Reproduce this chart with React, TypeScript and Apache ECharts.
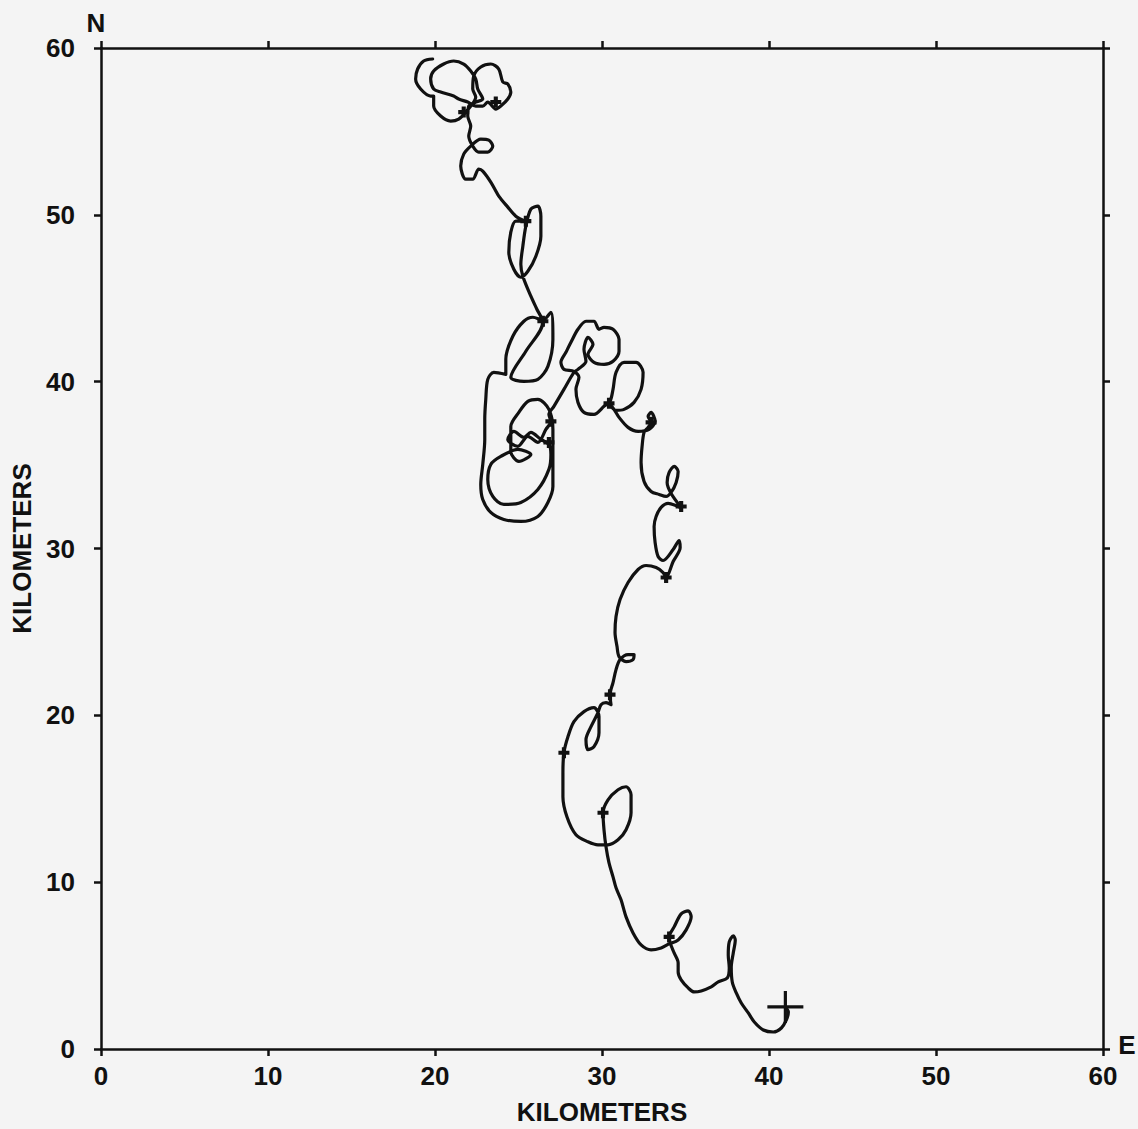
import React, { useEffect, useRef } from "react";
import * as echarts from "echarts";

// Drifter track (km east, km north), start at the cross
const pathX = [
  40.98, 41.16, 41.04, 40.74, 40.26, 39.66, 39.12, 38.76, 38.34, 38.04,
  37.8, 37.74, 37.86, 37.98, 37.86, 37.62, 37.56, 37.62, 37.5, 36.96,
  36.54, 35.94, 35.52, 35.16, 34.74, 34.56, 34.56, 34.32, 34.08, 34.02,
  34.32, 34.74, 35.16, 35.34, 35.04, 34.56, 34.02, 33.54, 32.94, 32.34,
  31.86, 31.44, 31.14, 30.84, 30.66, 30.42, 30.24, 30.12, 30.06, 30.36,
  30.96, 31.44, 31.74, 31.74, 31.44, 30.96, 30.36, 29.76, 29.16, 28.44,
  27.9, 27.66, 27.66, 27.72, 27.96, 28.32, 28.92, 29.52, 29.82, 29.82,
  29.52, 29.16, 29.04, 29.34, 29.76, 29.94, 30.24, 30.54, 30.48, 30.66,
  30.84, 31.08, 31.56, 31.92, 31.86, 31.44, 31.02, 30.9, 30.78, 30.84,
  31.08, 31.56, 32.16, 32.64, 33.24, 33.66, 33.84, 34.26, 34.68, 34.62,
  34.26, 33.66, 33.36, 33.18, 33.12, 33.24, 33.54, 33.96, 34.56, 34.74,
  34.14, 33.9, 34.02, 34.32, 34.56, 34.44, 34.14, 33.84, 33.42, 32.94,
  32.52, 32.34, 32.4, 32.52, 32.76, 32.94, 32.76, 32.94, 33.18, 32.82,
  32.16, 31.56, 31.02, 30.72, 30.42, 30.84, 31.32, 31.92, 32.34, 32.46,
  32.04, 31.32, 30.84, 30.66, 30.48, 30.12, 29.52, 28.92, 28.56, 28.44,
  28.62, 28.32, 27.72, 27.54, 27.84, 28.14, 28.56, 29.04, 29.52, 29.82,
  30.12, 30.66, 31.02, 31.02, 30.66, 30.12, 29.52, 29.16, 29.46, 29.16,
  28.92, 29.04, 28.56, 28.32, 27.72, 27.12, 26.82, 26.94, 26.64, 26.16,
  25.56, 24.96, 24.36, 24.72, 25.32, 25.74, 26.34, 26.82, 26.94, 26.82,
  26.16, 25.14, 24.12, 23.46, 23.16, 23.34, 23.94, 24.96, 25.74, 25.02,
  24.54, 24.54, 25.02, 25.56, 26.16, 26.82, 27.06, 27.06, 27.06, 26.76,
  26.16, 25.14, 24.12, 23.34, 22.86, 22.74, 22.86, 22.98, 22.98, 23.04,
  23.16, 23.52, 24.24, 24.24, 24.66, 25.32, 25.86, 26.46, 26.94, 27.06,
  26.76, 26.16, 25.32, 24.54, 25.44, 26.46, 26.1, 25.74, 25.26, 25.14,
  25.26, 25.44, 25.74, 26.16, 26.34, 26.34, 26.04, 25.56, 25.14, 24.72,
  24.42, 24.54, 24.84, 25.44, 24.84, 24.36, 23.82, 23.34, 22.86, 22.62,
  22.26, 21.84, 21.54, 21.72, 22.14, 22.74, 23.22, 23.46, 23.16, 22.62,
  22.26, 22.02, 22.14, 21.96, 22.02, 22.44, 22.86, 22.56, 22.44, 22.14,
  21.72, 21.12, 20.52, 19.92, 19.74, 19.92, 20.34, 21.12, 21.42, 21.96,
  22.44, 22.86, 23.16, 23.64, 23.94, 24.36, 24.54, 24.36, 24.06, 23.82,
  23.34, 22.74, 22.32, 22.26, 22.44, 21.84, 21.42, 20.94, 20.34, 19.92,
  19.92, 19.74, 19.14, 18.84, 18.96, 19.32, 19.86,
];
const pathY = [
  2.52, 2.22, 1.74, 1.26, 1.02, 1.14, 1.62, 2.16, 2.76, 3.36,
  4.02, 4.92, 5.76, 6.54, 6.78, 6.42, 5.64, 4.86, 4.26, 4.02,
  3.72, 3.48, 3.42, 3.66, 4.14, 4.62, 5.16, 5.76, 6.36, 6.72,
  7.32, 8.1, 8.28, 7.92, 7.14, 6.54, 6.3, 6.06, 5.94, 6.24,
  6.96, 7.92, 8.94, 9.66, 10.32, 11.16, 12.12, 13.14, 14.16, 14.94,
  15.54, 15.72, 15.24, 14.16, 13.14, 12.54, 12.24, 12.24, 12.42, 12.84,
  13.92, 15.12, 16.56, 17.76, 18.72, 19.62, 20.22, 20.46, 19.92, 18.96,
  18.12, 17.94, 18.54, 19.32, 20.16, 20.64, 20.76, 20.64, 21.24, 21.96,
  22.74, 23.34, 23.64, 23.64, 23.34, 23.22, 23.52, 24.12, 24.96, 25.92,
  26.94, 27.96, 28.74, 28.98, 28.86, 28.56, 28.26, 29.22, 30.06, 30.48,
  29.94, 29.28, 29.52, 30.36, 31.32, 31.92, 32.46, 32.7, 32.52, 32.46,
  33.3, 33.96, 34.56, 34.92, 34.62, 33.96, 33.36, 33.12, 33.24, 33.42,
  34.02, 35.16, 36.12, 36.96, 37.26, 37.56, 37.92, 38.16, 37.62, 37.14,
  37.02, 37.26, 37.86, 38.34, 38.7, 38.28, 38.34, 38.76, 39.54, 40.56,
  41.16, 41.16, 40.56, 39.54, 38.82, 38.52, 38.04, 38.16, 38.76, 39.54,
  40.26, 40.62, 40.74, 41.16, 41.76, 42.36, 43.14, 43.62, 43.62, 43.14,
  43.26, 43.14, 42.54, 41.82, 41.22, 41.04, 41.16, 41.64, 42.24, 42.66,
  41.94, 41.22, 40.74, 40.56, 39.54, 38.52, 38.04, 37.62, 37.14, 36.36,
  36.72, 36.12, 36.54, 37.02, 36.66, 36.96, 36.54, 36.24, 35.64, 34.74,
  33.54, 32.76, 32.64, 33.12, 34.14, 35.04, 35.52, 35.94, 35.64, 35.22,
  35.82, 37.32, 38.16, 38.82, 38.94, 38.34, 37.14, 35.34, 33.72, 32.76,
  31.92, 31.62, 31.74, 32.16, 32.94, 33.84, 35.04, 36.54, 37.74, 38.94,
  40.14, 40.56, 40.44, 41.34, 42.72, 43.62, 43.86, 43.68, 44.16, 42.54,
  40.92, 40.14, 40.02, 40.26, 41.82, 43.56, 44.34, 45.12, 46.32, 47.04,
  48.12, 49.32, 50.34, 50.52, 49.92, 48.72, 47.52, 46.62, 46.26, 46.74,
  47.76, 48.96, 49.62, 49.62, 49.92, 50.46, 51.12, 51.96, 52.62, 52.74,
  52.14, 52.14, 52.92, 53.64, 54.12, 54.54, 54.48, 54.12, 53.76, 53.76,
  54.12, 54.72, 55.32, 55.92, 56.52, 56.76, 56.94, 57.54, 58.14, 58.62,
  59.04, 59.22, 59.04, 58.62, 58.14, 57.54, 57.36, 57.12, 56.94, 56.76,
  56.52, 56.52, 56.76, 56.34, 56.52, 56.94, 57.36, 57.84, 57.96, 58.74,
  59.04, 58.86, 58.32, 57.54, 57.06, 56.16, 55.74, 55.62, 55.92, 56.52,
  57.12, 57.12, 57.54, 58.14, 58.74, 59.22, 59.34,
];

// Small position marks along the track
const markX = [34.02, 30.06, 27.72, 30.48, 33.84, 34.74, 32.94, 30.42, 26.94, 26.82, 26.46, 25.44, 21.72, 23.64];
const markY = [6.72, 14.16, 17.76, 21.24, 28.26, 32.52, 37.56, 38.7, 37.62, 36.36, 43.62, 49.62, 56.16, 56.76];

// Launch position (cross)
const startX = [40.98];
const startY = [2.52];

const axisTickValues = [0, 10, 20, 30, 40, 50, 60];

export default function App() {
  const ref = useRef<HTMLDivElement>(null);
  useEffect(() => {
    const chart = echarts.init(ref.current!, null, { renderer: "svg" });
    const ink = "#111111";
    const font = "Liberation Sans";
    const axisLine = { show: true, onZero: false, lineStyle: { color: ink, width: 2.5 } };
    const axisTick = { show: true, inside: false, length: 7, lineStyle: { color: ink, width: 2.5 } };
    const labelStyle = { color: ink, fontFamily: font, fontWeight: "bold", fontSize: 26 };
    const base = {
      type: "value",
      min: axisTickValues[0],
      max: axisTickValues[axisTickValues.length - 1],
      interval: 10,
      axisLine,
      axisTick,
      splitLine: { show: false },
    };
    chart.setOption({
      animation: false,
      backgroundColor: "#f4f4f4",
      grid: { left: 101, top: 48, width: 1002, height: 1001, outerBoundsMode: "none" },
      xAxis: [
        {
          ...base,
          position: "bottom",
          axisLabel: { ...labelStyle, margin: 14 },
          name: "KILOMETERS",
          nameLocation: "middle",
          nameGap: 50,
          nameTextStyle: { ...labelStyle },
        },
        { ...base, position: "top", axisLabel: { show: false } },
      ],
      yAxis: [
        {
          ...base,
          position: "left",
          axisLabel: { ...labelStyle, margin: 26 },
          name: "KILOMETERS",
          nameLocation: "middle",
          nameGap: 66,
          nameTextStyle: { ...labelStyle },
        },
        { ...base, position: "right", axisLabel: { show: false } },
      ],
      graphic: [
        { type: "text", x: 96, y: 23, style: { text: "N", ...labelStyle, fill: ink, align: "center", verticalAlign: "middle" } },
        { type: "text", x: 1127, y: 1045, style: { text: "E", ...labelStyle, fill: ink, align: "center", verticalAlign: "middle" } },
      ],
      series: [
        {
          type: "line",
          xAxisIndex: 0,
          yAxisIndex: 0,
          data: pathX.map((x, i) => [x, pathY[i]]),
          showSymbol: false,
          symbol: "none",
          smooth: 0.3,
          lineStyle: { color: ink, width: 3.2, join: "round", cap: "round" },
          z: 3,
        },
        {
          type: "scatter",
          xAxisIndex: 0,
          yAxisIndex: 0,
          data: markX.map((x, i) => [x, markY[i]]),
          symbol: "path://M-1.5,-4 h3 v2.5 h2.5 v3 h-2.5 v2.5 h-3 v-2.5 h-2.5 v-3 h2.5 z",
          symbolSize: 11,
          itemStyle: { color: ink, opacity: 1 },
          z: 4,
        },
        {
          type: "scatter",
          xAxisIndex: 0,
          yAxisIndex: 0,
          data: startX.map((x, i) => [x, startY[i]]),
          symbol: "path://M-18,-1.6 h36 v3.2 h-36 z M-1.6,-16 h3.2 v32 h-3.2 z",
          symbolSize: [36, 32],
          itemStyle: { color: ink, opacity: 1 },
          z: 5,
        },
      ],
    });
    return () => chart.dispose();
  }, []);
  return (
    <div
      ref={ref}
      style={{ position: "absolute", left: 0, top: 0, width: 1138, height: 1129 }}
    />
  );
}
